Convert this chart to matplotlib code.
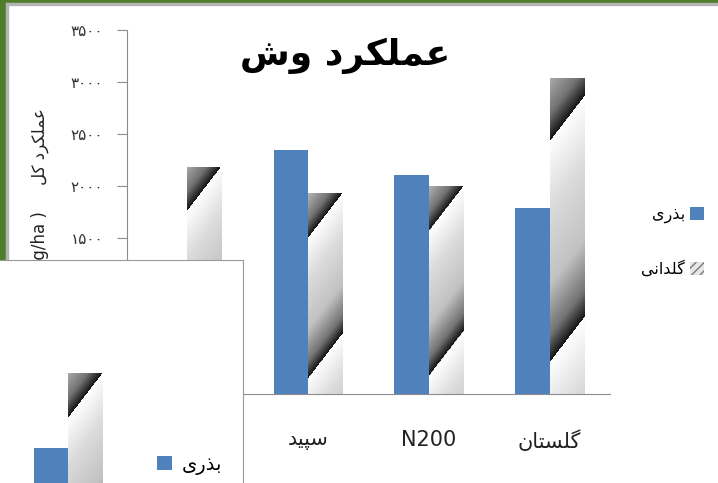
import numpy as np
import matplotlib
matplotlib.use('Agg')
import matplotlib.pyplot as plt
from matplotlib.patches import Patch, Rectangle

# داده ها
categories = ['ورامین', 'سپید', 'N200', 'گلستان']
seed = [1200, 2345, 2105, 1785]      # بذری
pot = [2185, 1930, 2000, 3035]       # گلدانی
yticks = [0, 500, 1000, 1500, 2000, 2500, 3000, 3500]

# چارت کوچک روی هم افتاده (پایین چپ)
inset_seed = [1460]
inset_pot = [2180]

BLUE = '#4F81BD'

# شکل دادن حروف فارسی (matplotlib خودش اتصال حروف را انجام نمی دهد)
forms = {
    'ا': ('\uFE8D', '\uFE8E', None, None),
    'ب': ('\uFE8F', '\uFE90', '\uFE91', '\uFE92'),
    'پ': ('\uFB56', '\uFB57', '\uFB58', '\uFB59'),
    'ت': ('\uFE95', '\uFE96', '\uFE97', '\uFE98'),
    'د': ('\uFEA9', '\uFEAA', None, None),
    'ذ': ('\uFEAB', '\uFEAC', None, None),
    'ر': ('\uFEAD', '\uFEAE', None, None),
    'س': ('\uFEB1', '\uFEB2', '\uFEB3', '\uFEB4'),
    'ش': ('\uFEB5', '\uFEB6', '\uFEB7', '\uFEB8'),
    'ع': ('\uFEC9', '\uFECA', '\uFECB', '\uFECC'),
    'ک': ('\uFB8E', '\uFB8F', '\uFB90', '\uFB91'),
    'گ': ('\uFB92', '\uFB93', '\uFB94', '\uFB95'),
    'ل': ('\uFEDD', '\uFEDE', '\uFEDF', '\uFEE0'),
    'م': ('\uFEE1', '\uFEE2', '\uFEE3', '\uFEE4'),
    'ن': ('\uFEE5', '\uFEE6', '\uFEE7', '\uFEE8'),
    'و': ('\uFEED', '\uFEEE', None, None),
    'ی': ('\uFBFC', '\uFBFD', '\uFBFE', '\uFBFF'),
}


def fa(text):
    if not any(c in forms for c in text):
        return text
    out = []
    for i, c in enumerate(text):
        if c not in forms:
            out.append(c)
            continue
        prev = text[i - 1] if i > 0 else None
        nxt = text[i + 1] if i + 1 < len(text) else None
        jp = prev in forms and forms[prev][2] is not None
        jn = nxt in forms and forms[c][2] is not None
        iso, fin, ini, med = forms[c]
        if jp and jn:
            out.append(med)
        elif jp:
            out.append(fin)
        elif jn:
            out.append(ini)
        else:
            out.append(iso)
    return ''.join(out)[::-1]


def fa_digits(v):
    return str(v).translate(str.maketrans('0123456789', '۰۱۲۳۴۵۶۷۸۹'))


def gradient_fill(ax, patch, phase=0.0):
    # گرادیان مورب تکراری مثل اکسل
    x0, y0 = patch.get_x(), patch.get_y()
    w, h = patch.get_width(), patch.get_height()
    p0 = ax.transData.transform((x0, y0))
    p1 = ax.transData.transform((x0 + w, y0 + h))
    wpx, hpx = abs(p1[0] - p0[0]), abs(p1[1] - p0[1])
    nx, ny = int(wpx) + 1, int(hpx) + 1
    u = np.arange(nx) + 0.5
    v = np.arange(ny) + 0.5
    U, V = np.meshgrid(u, v)
    period = 0.7 * hpx
    d = V - 1.3 * (wpx - U) - phase
    t = np.mod(d, period) / period
    val = np.interp(t, [0, 0.3, 0.65, 0.88, 1.0], [1.0, 0.86, 0.76, 0.45, 0.08])
    im = ax.imshow(val, cmap='gray', vmin=0, vmax=1, origin='upper',
                   extent=(x0, x0 + w, y0, y0 + h), aspect='auto',
                   interpolation='bilinear', zorder=2)
    im.set_clip_path(patch)


fig = plt.figure(figsize=(7.18, 4.83), dpi=100)

# قاب سبز و خاکستری
fig.add_artist(Rectangle((0, 0), 6 / 718, 1, transform=fig.transFigure,
                         color='#4f7d2c', zorder=1))
fig.add_artist(Rectangle((0, 1 - 3 / 483), 1, 3 / 483, transform=fig.transFigure,
                         color='#4f7d2c', zorder=1))
fig.add_artist(Rectangle((6 / 718, 0), 2 / 718, 1 - 3 / 483, transform=fig.transFigure,
                         color='#b4b4b4', zorder=1))
fig.add_artist(Rectangle((6 / 718, 1 - 5 / 483), 1, 2 / 483, transform=fig.transFigure,
                         color='#b4b4b4', zorder=1))

ax = fig.add_axes([127 / 718, 89 / 483, 483 / 718, 364 / 483])
ax.set_facecolor('none')
x = np.arange(len(categories))
w = 0.286
ax.set_xlim(-0.5, 3.5)
ax.set_ylim(0, 3500)
ax.bar(x - w / 2, seed, w, color=BLUE, zorder=2)
bars_pot = ax.bar(x + w / 2, pot, w, facecolor='none', edgecolor='none', zorder=2)
for i, b in enumerate(bars_pot):
    gradient_fill(ax, b, phase=18 if i == 3 else 0)
ax.set_xlim(-0.5, 3.5)
ax.set_ylim(0, 3500)

for s in ['top', 'right']:
    ax.spines[s].set_visible(False)
for s in ['left', 'bottom']:
    ax.spines[s].set_color('#8c8c8c')
ax.set_yticks(yticks)
ax.set_yticklabels([fa_digits(v) for v in yticks])
ax.set_xticks(x)
ax.set_xticklabels([fa(c) for c in categories])
ax.tick_params(axis='y', direction='out', length=7, color='#8c8c8c',
               labelsize=11, labelcolor='#333333', pad=10)
ax.tick_params(axis='x', length=0, labelsize=15, labelcolor='#222222', pad=26)

leg_handles = [Patch(facecolor=BLUE),
               Patch(facecolor='#e6e6e6', edgecolor='#7a7a7a', hatch='////', lw=0)]
ax.legend(leg_handles, [fa('بذری'), fa('گلدانی')], markerfirst=False, frameon=False,
          loc='upper right', bbox_to_anchor=(704 / 718, 1 - 207 / 483),
          bbox_transform=fig.transFigure, fontsize=11.5, handlelength=0.9,
          handleheight=0.9, handletextpad=0.3, labelspacing=2.3,
          borderaxespad=0, borderpad=0)

fig.text(345 / 718, 1 - 56 / 483, fa('عملکرد وش'), fontsize=26, fontweight='bold',
         ha='center', va='center', zorder=3)
fig.text(40 / 718, 1 - 108 / 483, '( kg/ha )     ' + fa('عملکرد کل'), rotation=90,
         fontsize=12, ha='center', va='top', color='#222222', zorder=1)

# پنل کوچک پایین چپ
axi = fig.add_axes([0, 0, 243 / 718, 223 / 483], zorder=5)
axi.set_facecolor('white')
axi.set_xlim(-0.567, 1.445)
axi.set_ylim(1122, 3266)
axi.bar([-w / 2], inset_seed, w, color=BLUE, zorder=2)
ib = axi.bar([w / 2], inset_pot, w, facecolor='none', edgecolor='none', zorder=2)
for b in ib:
    gradient_fill(axi, b)
axi.set_xlim(-0.567, 1.445)
axi.set_ylim(1122, 3266)
axi.set_xticks([])
axi.set_yticks([])
for s in ['left', 'bottom']:
    axi.spines[s].set_visible(False)
for s in ['top', 'right']:
    axi.spines[s].set_color('#9a9a9a')
axi.legend([Patch(facecolor=BLUE)], [fa('بذری')], frameon=False, loc='center left',
           bbox_to_anchor=(157 / 243, 18 / 223), fontsize=14, handlelength=0.75,
           handleheight=0.75, handletextpad=0.5, borderaxespad=0, borderpad=0)

fig.savefig('out.png', dpi=100)
